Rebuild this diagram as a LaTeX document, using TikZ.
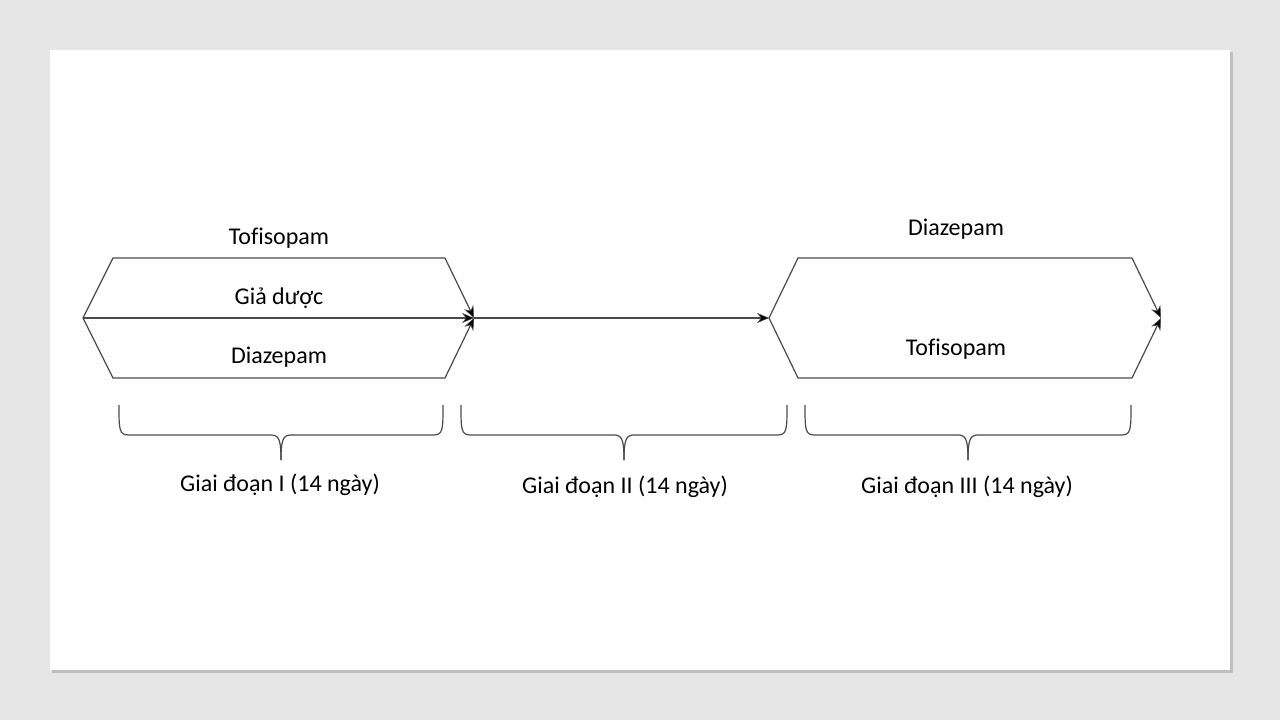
\documentclass[tikz,border=0pt]{standalone}
\usepackage{fontspec}
\setmainfont[Ligatures=NoCommon]{Carlito}
\usetikzlibrary{arrows.meta}
\definecolor{bgc}{HTML}{E7E6E6}
\definecolor{linec}{HTML}{4A4A4A}
\begin{document}
\begin{tikzpicture}[x=1pt,y=-1pt,
  lbl/.style={font=\fontsize{24}{28}\selectfont, text=black, inner sep=0pt},
  ln/.style={draw=linec, line width=1.2pt},
  arr/.style={ln, -{Stealth[length=12pt,width=10pt,inset=4pt,fill=black,line width=0.5pt]}},
  brace/.style={draw=linec, line width=1.2pt}]
\useasboundingbox (0,0) rectangle (1280,720);
\fill[bgc] (0,0) rectangle (1280,720);
\fill[black!25] (52,52) rectangle (1233,673);
\fill[white] (50,50) rectangle (1230,670);
% phase 1 hexagon
\coordinate (a0) at (83,318);
\coordinate (a1) at (113,258);
\coordinate (a2) at (445,258);
\coordinate (a3) at (113,378);
\coordinate (a4) at (445,378);
\coordinate (atip) at (474,318);
% phase 3 hexagon
\coordinate (b0) at (769,318);
\coordinate (b1) at (798,258);
\coordinate (b2) at (1132,258);
\coordinate (b3) at (798,378);
\coordinate (b4) at (1132,378);
\coordinate (btip) at (1161,318);
\draw[ln] (a2) -- (a1) -- (a0) -- (a3) -- (a4);
\draw[arr] (a2) -- (atip);
\draw[arr] (a4) -- (atip);
\draw[arr] (a0) -- (atip);
\draw[arr] (atip) -- (b0);
\draw[ln] (b2) -- (b1) -- (b0) -- (b3) -- (b4);
\draw[arr] (b2) -- (btip);
\draw[arr] (b4) -- (btip);
% labels
\node[lbl] (t1) at (279,238) {Tofisopam};
\node[lbl] (g1) at (279,298) {Giả dược};
\node[lbl] (d1) at (279,357) {Diazepam};
\node[lbl] (d3) at (956,229) {Diazepam};
\node[lbl] (t3) at (956,349) {Tofisopam};
% braces
\foreach \l/\r/\n in {119/443/1, 461/787/2, 805/1131/3}{
  \pgfmathsetmacro{\m}{(\l+\r)/2}
  \draw[brace] (\l,405) .. controls (\l,430) and (\l,435) .. (\l+10,435)
    -- (\m-10,435) .. controls (\m-2,435) and (\m,440) .. (\m,460);
  \draw[brace] (\r,405) .. controls (\r,430) and (\r,435) .. (\r-10,435)
    -- (\m+10,435) .. controls (\m+2,435) and (\m,440) .. (\m,460);
}
\node[lbl] (p1) at (280,485) {Giai đoạn I (14 ngày)};
\node[lbl] (p2) at (625,487) {Giai đoạn II (14 ngày)};
\node[lbl] (p3) at (967,487) {Giai đoạn III (14 ngày)};
\end{tikzpicture}
\end{document}
